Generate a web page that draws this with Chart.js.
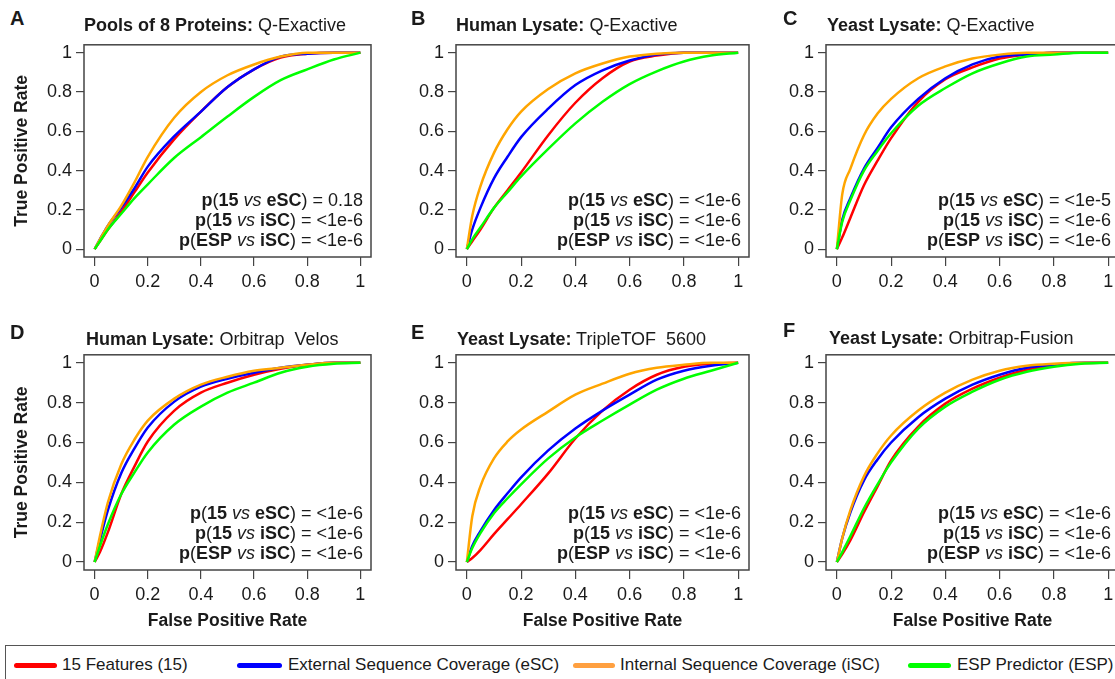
<!DOCTYPE html>
<html>
<head>
<meta charset="utf-8">
<script src="https://cdn.jsdelivr.net/npm/chart.js@4.4.1/dist/chart.umd.min.js"></script>
<style>
body { margin: 0; width: 1115px; height: 679px; overflow: hidden; background: #fff; position: relative;
       font-family: "Liberation Sans", Arial, sans-serif; color: #1a1a1a; }
canvas { position: absolute; }
.letter { position: absolute; font-weight: bold; font-size: 20px; line-height: 20px; z-index: 2; }
.title { position: absolute; font-size: 18px; line-height: 20px; white-space: pre; z-index: 2; }
.pv { position: absolute; font-size: 18px; line-height: 20px; text-align: right; white-space: nowrap; z-index: 2; }
.legend { position: absolute; left: 5px; top: 645px; width: 1130px; height: 50px; border: 1.5px solid #555; box-sizing: border-box; z-index: 2; }
.sw { position: absolute; top: 17px; height: 5px; border-radius: 3px; }
.lt { position: absolute; top: 9px; font-size: 17px; line-height: 20px; white-space: nowrap; }
</style>
</head>
<body>

<div class="letter" style="left:10px;top:8px">A</div>
<div class="title" style="left:84px;top:15px"><b>Pools of 8 Proteins:</b> Q-Exactive</div>
<div class="letter" style="left:411px;top:8px">B</div>
<div class="title" style="left:456px;top:15px"><b>Human Lysate:</b> Q-Exactive</div>
<div class="letter" style="left:783px;top:8px">C</div>
<div class="title" style="left:827px;top:15px"><b>Yeast Lysate:</b> Q-Exactive</div>
<div class="letter" style="left:10px;top:322px">D</div>
<div class="title" style="left:86px;top:329px"><b>Human Lysate:</b> Orbitrap  Velos</div>
<div class="letter" style="left:411px;top:322px">E</div>
<div class="title" style="left:457px;top:329px"><b>Yeast Lysate:</b> TripleTOF  5600</div>
<div class="letter" style="left:783px;top:320px">F</div>
<div class="title" style="left:829px;top:328px"><b>Yeast Lysate:</b> Orbitrap-Fusion</div>

<div class="legend">
  <div class="sw" style="left:8px;width:43px;background:#ff0000"></div>
  <div class="lt" style="left:56px">15 Features (15)</div>
  <div class="sw" style="left:231px;width:45px;background:#0000ff"></div>
  <div class="lt" style="left:282px">External Sequence Coverage (eSC)</div>
  <div class="sw" style="left:567px;width:42px;background:#ffa040"></div>
  <div class="lt" style="left:614px">Internal Sequence Coverage (iSC)</div>
  <div class="sw" style="left:902px;width:43px;background:#00ff00"></div>
  <div class="lt" style="left:951px">ESP Predictor (ESP)</div>
</div>

<script>
// shared false positive rate grid (x values of every curve)
const FPR = [0, 0.02, 0.05, 0.1, 0.15, 0.2, 0.3, 0.4, 0.5, 0.6, 0.7, 0.8, 0.9, 1];
const AXIS_TICKS = [0, 0.2, 0.4, 0.6, 0.8, 1];

// A: Pools of 8 Proteins, Q-Exactive
const A_15  = [0, 0.04, 0.10, 0.19, 0.29, 0.39, 0.56, 0.70, 0.825, 0.915, 0.975, 0.995, 1, 1];
const A_ESC = [0, 0.05, 0.12, 0.21, 0.31, 0.42, 0.575, 0.70, 0.825, 0.915, 0.98, 0.995, 1, 1];
const A_ISC = [0, 0.05, 0.12, 0.22, 0.34, 0.47, 0.67, 0.80, 0.885, 0.94, 0.98, 1, 1, 1];
const A_ESP = [0, 0.04, 0.10, 0.18, 0.26, 0.33, 0.465, 0.57, 0.675, 0.775, 0.86, 0.915, 0.965, 1];

// B: Human Lysate, Q-Exactive
const B_15  = [0, 0.04, 0.10, 0.21, 0.30, 0.39, 0.58, 0.745, 0.87, 0.955, 0.985, 1, 1, 1];
const B_ESC = [0, 0.10, 0.21, 0.36, 0.47, 0.57, 0.715, 0.835, 0.91, 0.96, 0.99, 1, 1, 1];
const B_ISC = [0, 0.17, 0.32, 0.49, 0.61, 0.70, 0.815, 0.895, 0.945, 0.98, 0.995, 1, 1, 1];
const B_ESP = [0, 0.05, 0.11, 0.21, 0.29, 0.37, 0.51, 0.64, 0.75, 0.84, 0.905, 0.955, 0.985, 1];

// C: Yeast Lysate, Q-Exactive
const C_15  = [0, 0.06, 0.16, 0.325, 0.45, 0.565, 0.75, 0.865, 0.925, 0.97, 0.99, 1, 1, 1];
const C_ESC = [0, 0.15, 0.26, 0.41, 0.515, 0.62, 0.765, 0.87, 0.94, 0.98, 0.99, 1, 1, 1];
const C_ISC = [0, 0.28, 0.41, 0.58, 0.69, 0.765, 0.87, 0.93, 0.97, 0.99, 1, 1, 1, 1];
const C_ESP = [0, 0.14, 0.25, 0.40, 0.50, 0.59, 0.73, 0.82, 0.895, 0.945, 0.98, 0.99, 1, 1];

// D: Human Lysate, Orbitrap Velos
const D_15  = [0, 0.05, 0.15, 0.34, 0.48, 0.605, 0.76, 0.85, 0.90, 0.94, 0.97, 0.99, 1, 1];
const D_ESC = [0, 0.11, 0.26, 0.445, 0.57, 0.675, 0.805, 0.88, 0.92, 0.95, 0.975, 0.99, 1, 1];
const D_ISC = [0, 0.13, 0.30, 0.49, 0.615, 0.71, 0.82, 0.89, 0.93, 0.96, 0.975, 0.99, 1, 1];
const D_ESP = [0, 0.08, 0.19, 0.34, 0.45, 0.55, 0.69, 0.78, 0.85, 0.90, 0.95, 0.98, 0.995, 1];

// E: Yeast Lysate, TripleTOF 5600
const E_15  = [0, 0.02, 0.06, 0.14, 0.215, 0.29, 0.445, 0.62, 0.76, 0.865, 0.94, 0.98, 0.995, 1];
const E_ESC = [0, 0.08, 0.155, 0.26, 0.345, 0.425, 0.56, 0.67, 0.76, 0.84, 0.915, 0.96, 0.985, 1];
const E_ISC = [0, 0.23, 0.38, 0.52, 0.605, 0.665, 0.755, 0.84, 0.895, 0.945, 0.975, 0.99, 1, 1];
const E_ESP = [0, 0.07, 0.145, 0.245, 0.32, 0.39, 0.52, 0.625, 0.71, 0.79, 0.865, 0.92, 0.96, 1];

// F: Yeast Lysate, Orbitrap-Fusion
const F_15  = [0, 0.04, 0.11, 0.25, 0.38, 0.51, 0.68, 0.795, 0.87, 0.925, 0.965, 0.985, 0.998, 1];
const F_ESC = [0, 0.12, 0.25, 0.41, 0.515, 0.60, 0.727, 0.82, 0.89, 0.94, 0.975, 0.99, 1, 1];
const F_ISC = [0, 0.12, 0.26, 0.43, 0.545, 0.635, 0.76, 0.85, 0.915, 0.96, 0.985, 0.995, 1, 1];
const F_ESP = [0, 0.05, 0.13, 0.27, 0.39, 0.50, 0.67, 0.78, 0.855, 0.915, 0.955, 0.98, 0.995, 1];

// p-value labels, panels A..F
const P_15_ESC  = ['0.18', '<1e-6', '<1e-5', '<1e-6', '<1e-6', '<1e-6'];
const P_15_ISC  = ['<1e-6', '<1e-6', '<1e-6', '<1e-6', '<1e-6', '<1e-6'];
const P_ESP_ISC = ['<1e-6', '<1e-6', '<1e-6', '<1e-6', '<1e-6', '<1e-6'];

const RED = '#ff0000', BLUE = '#0000ff', ORANGE = '#ffa500', GREEN = '#00ff00';
const FONT = '"Liberation Sans", Arial, sans-serif';

const boxPlugin = {
    id: 'box',
    afterDraw(chart) {
        const { ctx, chartArea: a } = chart;
        ctx.save();
        ctx.strokeStyle = '#444';
        ctx.lineWidth = 1.5;
        ctx.strokeRect(a.left, a.top, a.right - a.left, a.bottom - a.top);
        ctx.restore();
    }
};

// layout of the 2 x 3 grid
const COL_LEFT = [0, 373, 743];
const COL_YW = [84, 83, 83];
const COL_BOXW = [287, 293, 293];
const ROW_TOP = [30, 340];
const ROW_BOXH = [215, 218];
const ROW_XH = [43, 70];

function pairs(tpr) {
    return FPR.map((x, i) => ({ x: x, y: tpr[i] }));
}

function drawPanel(idx, s15, sEsc, sIsc, sEsp) {
    const col = idx % 3, row = Math.floor(idx / 3);
    const canvas = document.createElement('canvas');
    const w = COL_YW[col] + COL_BOXW[col] + 6;
    const h = 12 + ROW_BOXH[row] + ROW_XH[row];
    canvas.width = w;
    canvas.height = h;
    canvas.style.left = COL_LEFT[col] + 'px';
    canvas.style.top = ROW_TOP[row] + 'px';
    document.body.appendChild(canvas);

    const tickFont = { family: FONT, size: 18 };
    const titleFont = { family: FONT, size: 17.5, weight: 'bold' };
    const setTicks = axis => { axis.ticks = AXIS_TICKS.map(v => ({ value: v })); };

    new Chart(canvas, {
        type: 'line',
        data: {
            datasets: [
                { label: 'ESP Predictor (ESP)', data: pairs(sEsp), borderColor: GREEN },
                { label: 'Internal Sequence Coverage (iSC)', data: pairs(sIsc), borderColor: ORANGE },
                { label: 'External Sequence Coverage (eSC)', data: pairs(sEsc), borderColor: BLUE },
                { label: '15 Features (15)', data: pairs(s15), borderColor: RED }
            ]
        },
        options: {
            responsive: false,
            animation: false,
            events: [],
            layout: { padding: { top: 12, right: 6, left: 0, bottom: 0 } },
            elements: {
                point: { radius: 0 },
                line: { borderWidth: 2.5, cubicInterpolationMode: 'monotone', fill: false }
            },
            plugins: { legend: { display: false }, tooltip: { enabled: false } },
            scales: {
                x: {
                    type: 'linear',
                    min: -0.04,
                    max: 1.04,
                    afterBuildTicks: setTicks,
                    afterFit: s => { s.height = ROW_XH[row]; },
                    border: { display: false },
                    grid: { drawOnChartArea: false, drawTicks: true, tickLength: 9, color: '#444', lineWidth: 1.2 },
                    ticks: { font: tickFont, color: '#1a1a1a', padding: 5, maxRotation: 0, callback: v => String(v) },
                    title: {
                        display: row === 1,
                        text: 'False Positive Rate',
                        font: titleFont,
                        color: '#1a1a1a',
                        padding: { top: 2, bottom: 8 }
                    }
                },
                y: {
                    type: 'linear',
                    min: -0.04,
                    max: 1.04,
                    afterBuildTicks: setTicks,
                    afterFit: s => { s.width = COL_YW[col]; },
                    border: { display: false },
                    grid: { drawOnChartArea: false, drawTicks: true, tickLength: 8, color: '#444', lineWidth: 1.2 },
                    ticks: { font: tickFont, color: '#1a1a1a', padding: 4, callback: v => String(v) },
                    title: {
                        display: col === 0,
                        text: 'True Positive Rate',
                        font: titleFont,
                        color: '#1a1a1a',
                        padding: { top: 12, bottom: 0 }
                    }
                }
            }
        },
        plugins: [boxPlugin]
    });

    // p-value block, bottom right of the plot box
    const pv = document.createElement('div');
    pv.className = 'pv';
    const right = COL_LEFT[col] + COL_YW[col] + COL_BOXW[col] - 8;
    pv.style.right = (1115 - right) + 'px';
    pv.style.top = (ROW_TOP[row] + 12 + ROW_BOXH[row] - 67) + 'px';
    pv.innerHTML =
        '<b>p</b>(<b>15</b> <i>vs</i> <b>eSC</b>) = ' + P_15_ESC[idx].replace('<', '&lt;') + '<br>' +
        '<b>p</b>(<b>15</b> <i>vs</i> <b>iSC</b>) = ' + P_15_ISC[idx].replace('<', '&lt;') + '<br>' +
        '<b>p</b>(<b>ESP</b> <i>vs</i> <b>iSC</b>) = ' + P_ESP_ISC[idx].replace('<', '&lt;');
    document.body.appendChild(pv);
}

drawPanel(0, A_15, A_ESC, A_ISC, A_ESP);
drawPanel(1, B_15, B_ESC, B_ISC, B_ESP);
drawPanel(2, C_15, C_ESC, C_ISC, C_ESP);
drawPanel(3, D_15, D_ESC, D_ISC, D_ESP);
drawPanel(4, E_15, E_ESC, E_ISC, E_ESP);
drawPanel(5, F_15, F_ESC, F_ISC, F_ESP);
</script>
</body>
</html>
